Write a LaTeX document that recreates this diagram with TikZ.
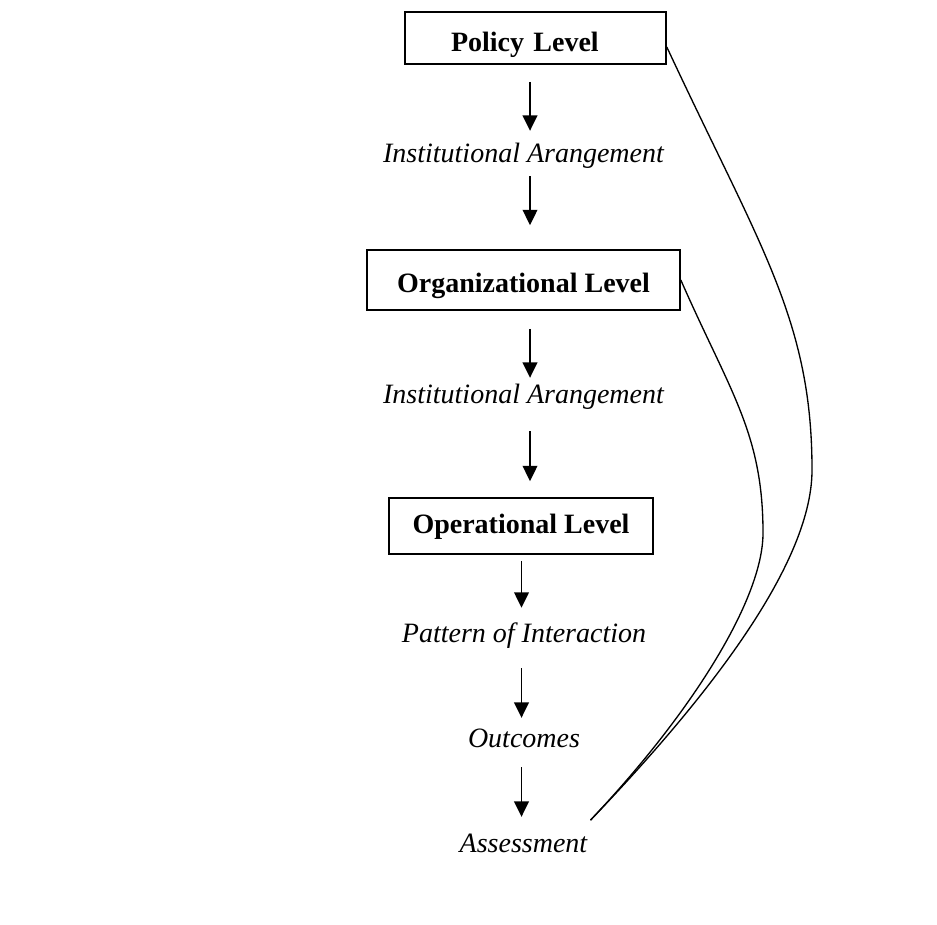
\documentclass[tikz,border=0pt]{standalone}
\usepackage{fontspec}
\setmainfont{Liberation Serif}
\usetikzlibrary{positioning,arrows.meta,calc}
\newcommand\marime{\fontsize{21pt}{25pt}\selectfont}
\tikzset{
  nivel/.style    = {draw, line width=1.2pt, inner sep=0pt, anchor=base,
                     font=\marime\bfseries},
  etapa/.style    = {inner sep=0pt, anchor=base, text height=14pt, text depth=4pt,
                     font=\marime\itshape},
  sageata/.style  = {-{Triangle[length=11.5pt, width=11pt]}, line width=1.1pt},
  legatura/.style = {line width=1pt}
}

\begin{document}
\begin{tikzpicture}[x=0.75pt, y=-0.75pt]
    \useasboundingbox (0,0) rectangle (937,924);

    \node[nivel, text width=126.75pt, inner xsep=34.5pt, align=left,
          text height=30pt, text depth=9pt] (policy) at (535.5,52) {Policy Level};
    \node[etapa] (inst1) at (523.5,162) {Institutional Arangement};
    \node[nivel, minimum width=234.75pt, text height=31.5pt, text depth=13.5pt] (org) at (523.5,292) {Organizational Level};
    \node[etapa] (inst2) at (523.5,403) {Institutional Arangement};
    \node[nivel, minimum width=198pt, text height=26.25pt, text depth=15.75pt] (oper) at (521,533) {Operational Level};
    \node[etapa] (pattern) at (524,642) {Pattern of Interaction};
    \node[etapa] (outcomes) at (524,747) {Outcomes};
    \node[etapa] (assess) at (523.5,852) {Assessment};

    % axes of the vertical arrows
    \coordinate (axa1) at (530,0);
    \coordinate (axa2) at (521.5,0);

    \draw[sageata, shorten <=12.75pt, shorten >=9.2pt] (policy.south -| axa1) -- (inst1.north -| axa1);
    \draw[sageata, shorten <=6.5pt, shorten >=18pt] (inst1.south -| axa1) -- (org.north -| axa1);
    \draw[sageata, shorten <=13.5pt, shorten >=4.7pt] (org.south -| axa1) -- (inst2.north -| axa1);
    \draw[sageata, shorten <=17pt, shorten >=12pt] (inst2.south -| axa1) -- (oper.north -| axa1);
    \draw[sageata, shorten <=4.5pt, shorten >=11.5pt] (oper.south -| axa2) -- (pattern.north -| axa2);
    \draw[sageata, shorten <=15.5pt, shorten >=7.7pt] (pattern.south -| axa2) -- (outcomes.north -| axa2);
    \draw[sageata, shorten <=11pt, shorten >=12.2pt] (outcomes.south -| axa2) -- (assess.north -| axa2);

    % feedback from the assessment
    \coordinate (intoarcere) at ($(assess.north east)+(3,-13)$);
    \draw[legatura] ([yshift=-6.75pt]policy.east) .. controls (760,247) and (812,320) .. (812,470)
        .. controls (812,570) and (694,712) .. (intoarcere);
    \draw[legatura] (org.east) .. controls (730,392) and (763,433) .. (763,533)
        .. controls (763,600) and (690,715) .. (intoarcere);
\end{tikzpicture}
\end{document}
